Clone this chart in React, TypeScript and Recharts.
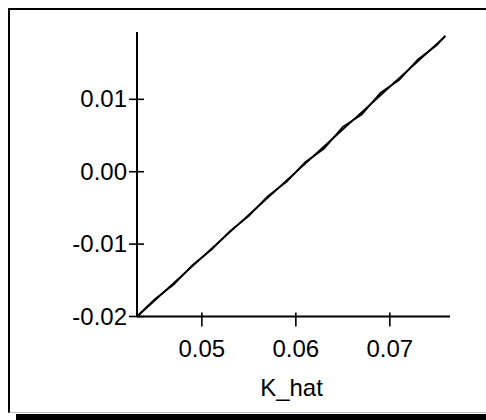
import { Label, Line, LineChart, XAxis, YAxis } from "recharts";

// K_hat values where both curves are sampled
const K_HAT = [
  0.0431, 0.045, 0.047, 0.049, 0.051, 0.053, 0.055, 0.057, 0.059, 0.061,
  0.063, 0.065, 0.067, 0.069, 0.071, 0.073, 0.075, 0.0759,
];
// reference (straight) line
const FITTED = [
  -0.02, -0.01776, -0.0154, -0.01304, -0.01068, -0.00832, -0.00596, -0.0036,
  -0.00124, 0.00112, 0.00348, 0.00584, 0.0082, 0.01056, 0.01292, 0.01528,
  0.01764, 0.0187,
];
// observed curve, wobbles a little around the straight one
const OBSERVED = [
  -0.02, -0.0176, -0.0156, -0.0129, -0.0108, -0.0082, -0.0061, -0.0034,
  -0.0014, 0.0013, 0.0032, 0.0062, 0.0079, 0.0109, 0.0127, 0.0155, 0.0175,
  0.0188,
];
const X_TICKS = [0.05, 0.06, 0.07];
const Y_TICKS = [-0.02, -0.01, 0, 0.01];

const data = K_HAT.map((k, i) => ({ k, fit: FITTED[i], obs: OBSERVED[i] }));

const FONT = "'Liberation Sans', Arial, sans-serif";

const YTick = ({ x, y, payload }: any) => (
  <g>
    <line x1={x - 8} x2={x + 7} y1={y} y2={y} stroke="#000" strokeWidth={1.6} />
    <text
      x={x - 10}
      y={y + 8}
      textAnchor="end"
      fontSize={24}
      fontFamily={FONT}
      fill="#000"
    >
      {payload.value.toFixed(2)}
    </text>
  </g>
);

const XTick = ({ x, y, payload }: any) => (
  <g>
    <line x1={x} x2={x} y1={y - 4} y2={y + 10} stroke="#000" strokeWidth={1.6} />
    <text
      x={x}
      y={y + 40}
      textAnchor="middle"
      fontSize={24}
      fontFamily={FONT}
      fill="#000"
    >
      {payload.value.toFixed(2)}
    </text>
  </g>
);

export default function App() {
  return (
    <div
      style={{
        position: "fixed",
        left: 0,
        top: 0,
        width: 486,
        height: 420,
        overflow: "hidden",
        background: "#fff",
      }}
    >
      {/* panel frame with drop shadow */}
      <div
        style={{
          position: "absolute",
          left: 8,
          top: 8,
          width: 600,
          height: 405,
          boxSizing: "border-box",
          borderTop: "2px solid #000",
          borderLeft: "2px solid #000",
          borderBottom: "1px solid #bdbdbd",
        }}
      />
      <div
        style={{
          position: "absolute",
          left: 16,
          top: 414,
          width: 600,
          height: 10,
          background: "#000",
        }}
      />
      <div style={{ position: "absolute", left: 0, top: 0 }}>
        <LineChart
          width={486}
          height={420}
          data={data}
          margin={{ top: 32, right: 36, left: 0, bottom: 3.5 }}
        >
          <XAxis
            type="number"
            dataKey="k"
            domain={[0.0431, 0.0764]}
            ticks={X_TICKS}
            height={100}
            tickSize={0}
            tickMargin={0}
            tickLine={false}
            axisLine={{ stroke: "#000", strokeWidth: 2 }}
            tick={<XTick />}
          >
            <Label
              content={({ viewBox }: any) => (
                <text
                  x={viewBox.x + viewBox.width / 2 - 2}
                  y={viewBox.y + 79.5}
                  textAnchor="middle"
                  fontSize={24}
                  fontFamily={FONT}
                  fill="#000"
                >
                  K_hat
                </text>
              )}
            />
          </XAxis>
          <YAxis
            type="number"
            domain={[-0.02, 0.0193]}
            ticks={Y_TICKS}
            width={137}
            tickSize={0}
            tickMargin={0}
            tickLine={false}
            axisLine={{ stroke: "#000", strokeWidth: 2 }}
            tick={<YTick />}
          />
          <Line
            type="linear"
            dataKey="fit"
            stroke="#000"
            strokeWidth={1.8}
            dot={false}
            isAnimationActive={false}
          />
          <Line
            type="linear"
            dataKey="obs"
            stroke="#000"
            strokeWidth={1.8}
            dot={false}
            isAnimationActive={false}
          />
        </LineChart>
      </div>
    </div>
  );
}
